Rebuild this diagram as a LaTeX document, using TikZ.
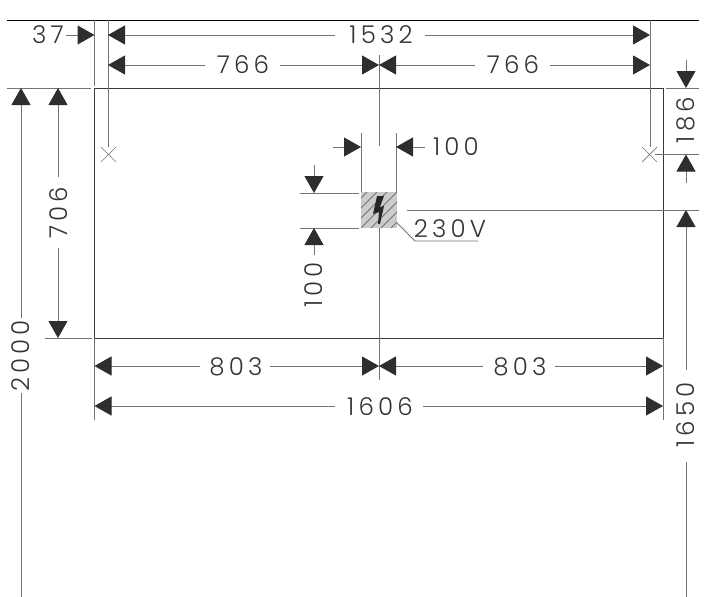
\documentclass[tikz,border=0pt]{standalone}
\usepackage{fontspec}
\setmainfont{Poppins}[UprightFont=* Light,LetterSpace=17]
\usetikzlibrary{arrows.meta}
\definecolor{ln}{gray}{0.45}
\definecolor{hd}{gray}{0.18}
\tikzset{
  x=1pt,y=-1pt,
  ext/.style={draw=ln,line width=1pt},
  edge/.style={draw=black!78,line width=0.9pt},
  dim/.style={ext,-{Triangle[length=17pt,width=19pt,fill=hd,color=hd]}},
  lbl/.style={font=\fontsize{24.5}{24.5}\selectfont,text=black!80,inner sep=0pt,outer sep=0pt},
}
\begin{document}
\begin{tikzpicture}
\useasboundingbox (0,0) rectangle (718,597);
% named points
\coordinate (tl) at (94.5,88); \coordinate (tr) at (663,88);
\coordinate (bl) at (94.5,338); \coordinate (br) at (663,338);
% panel
\draw[edge] (tl) -- (tr) -- (br) -- (bl) -- cycle;
% extension lines
\draw[draw=black,line width=1pt] (7,20) -- (699,20);
\draw[ext] (7,88) -- (91,88);
\draw[ext] (45,338) -- (92,338);
\draw[ext] (666,88) -- (699,88);
\draw[ext] (655,154.5) -- (699,154.5);
\draw[ext] (407,210) -- (699,210);
\draw[ext] (94.5,20) -- (94.5,86);
\draw[ext] (94.5,338) -- (94.5,420);
\draw[ext] (663,338) -- (663,420);
\draw[ext] (108,20) -- (108,147);
\draw[ext] (650,20) -- (650,147);
\draw[ext] (379,55) -- (379,146);
\draw[ext] (379,228) -- (379,380);
\draw[ext] (361,133) -- (361,192);
\draw[ext] (396,133) -- (396,192);
\draw[ext] (300,193) -- (359,193);
\draw[ext] (300,228) -- (359,228);
% crosses
\draw[draw=ln,line width=0.7pt] (101,147) -- (116,162) (101,162) -- (116,147);
\draw[draw=ln,line width=0.7pt] (642,147) -- (657,162) (642,162) -- (657,147);
% socket
\fill[gray!40] (361,192) rectangle (397,228);
\begin{scope}
\clip (361,192) rectangle (397,228);
\foreach \d in {-30,-20,...,60} \draw[draw=black!55,line width=0.8pt] (361+\d,228) -- (361+\d+36,192);
\end{scope}
\fill[black!85] (377,196) -- (384,196) -- (380,207) -- (384,206) -- (380,224) -- (378,224) -- (379,212) -- (373,214) -- cycle;
% labels
\node[lbl] (n37) at (48,35) {37};
\node[lbl] (n1532) at (381,35) {1532};
\node[lbl] (n766a) at (243,65) {766};
\node[lbl] (n766b) at (513,65) {766};
\node[lbl] (n100h) at (456,147) {100};
\node[lbl] (n230) at (450,229) {230V};
\node[lbl,rotate=90] (n100v) at (314,285) {100};
\node[lbl,rotate=90] (n186) at (686,120) {186};
\node[lbl,rotate=90] (n706) at (59,213) {706};
\node[lbl,rotate=90] (n2000) at (21,356) {2000};
\node[lbl,rotate=90] (n1650) at (686,415) {1650};
\node[lbl] (n803a) at (236,367) {803};
\node[lbl] (n803b) at (520,367) {803};
\node[lbl] (n1606) at (380,407) {1606};
% dimension lines
\coordinate (a) at (94.5,35);
\draw[dim] (66,35) -- (a);
\draw[dim] (335,35) -- (108,35);
\draw[dim] (425,35) -- (650,35);
\draw[dim] (205,65) -- (108,65);
\draw[dim] (280,65) -- (379,65);
\draw[dim] (475,65) -- (379,65);
\draw[dim] (550,65) -- (650,65);
\draw[dim] (333,147) -- (361,147);
\draw[dim] (425,147) -- (396,147);
\draw[dim] (314,165) -- (314,193);
\draw[dim] (314,255) -- (314,228);
\draw[dim] (686,60) -- (686,88);
\draw[dim] (686,183) -- (686,154.5);
\draw[dim] (686,370) -- (686,210);
\draw[ext] (686,462) -- (686,597);
\draw[dim] (58,177) -- (58,88);
\draw[dim] (58,248) -- (58,338);
\draw[dim] (21,318) -- (21,88);
\draw[ext] (21,393) -- (21,597);
\draw[dim] (200,366) -- (94.5,366);
\draw[dim] (270,366) -- (379,366);
\draw[dim] (483,366) -- (379,366);
\draw[dim] (555,366) -- (663,366);
\draw[dim] (335,406) -- (94.5,406);
\draw[dim] (423,406) -- (663,406);
% 230V leader
\draw[draw=ln,line width=0.9pt] (397,223) -- (415,241) -- (478,241);
\end{tikzpicture}
\end{document}
